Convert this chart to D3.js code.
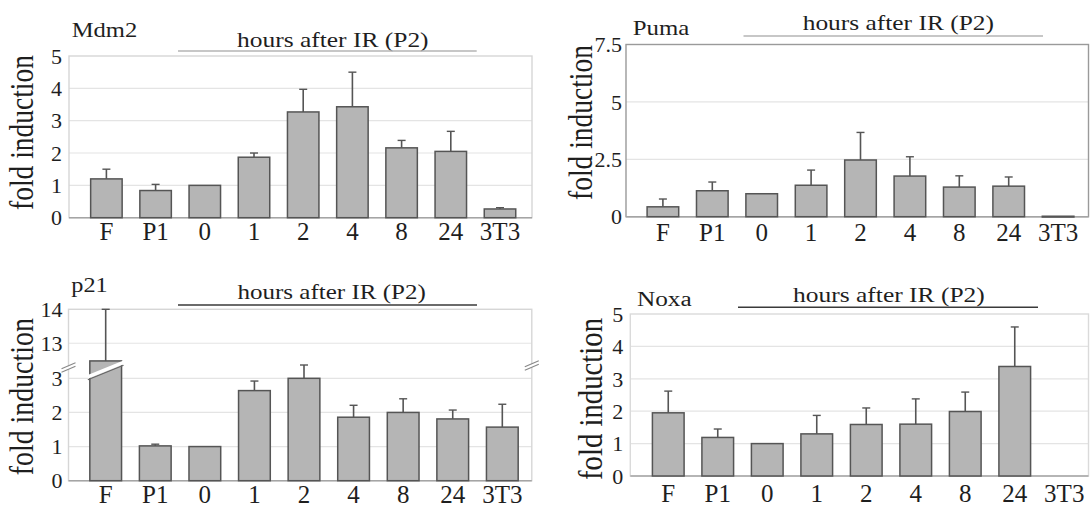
<!DOCTYPE html>
<html><head><meta charset="utf-8">
<script src="https://cdn.jsdelivr.net/npm/d3@7"></script>
</head><body style="margin:0">
<svg id="chart" width="1091" height="506" style="display:block;font-family:'Liberation Serif'"></svg>
<script>
// ---------- data ----------
const categories = ["F","P1","0","1","2","4","8","24","3T3"];
const groupLabel = "hours after IR (P2)";
const yAxisTitle = "fold induction";

const mdm2Values = [1.20, 0.84, 1.00, 1.87, 3.27, 3.43, 2.16, 2.05, 0.27];
const mdm2Errors = [0.30, 0.19, 0.00, 0.13, 0.70, 1.07, 0.23, 0.62, 0.04];
const mdm2Ticks  = [0, 1, 2, 3, 4, 5];

const pumaValues = [0.43, 1.13, 1.00, 1.37, 2.47, 1.77, 1.29, 1.33, 0.02];
const pumaErrors = [0.34, 0.38, 0.00, 0.66, 1.20, 0.84, 0.49, 0.40, 0.00];
const pumaTicks  = [0, 2.5, 5, 7.5];

const p21Values = [12.48, 1.02, 1.00, 2.64, 3.00, 1.86, 2.00, 1.81, 1.57];
const p21Errors = [1.52, 0.05, 0.00, 0.28, 0.39, 0.35, 0.40, 0.26, 0.67];
const p21Ticks  = [0, 1, 2, 3, 13, 14];
const p21Break  = [3.44, 12.41];

const noxaValues = [1.95, 1.19, 1.00, 1.30, 1.59, 1.60, 1.99, 3.38, null];
const noxaErrors = [0.67, 0.26, 0.00, 0.57, 0.51, 0.78, 0.60, 1.22, null];
const noxaTicks  = [0, 1, 2, 3, 4, 5];

// ---------- layout (positions / styles) ----------
const FONT = "Liberation Serif";
const panels = [
  { title:"Mdm2", values:mdm2Values, errors:mdm2Errors, ticks:mdm2Ticks,
    yDomain:[0,5], yRange:[217.7,56],
    frame:{l:69,r:532,t:56,b:217.7}, frameColor:"#d6d6d6",
    band:[81.8,524.6], tickX:62, xLabelBase:240,
    titlePos:{x:71.7,y:36.7,w:65.6,fs:21},
    hours:{x:237,y:46.7,w:191.6}, line:{x0:178,x1:476.7,y:51,c:"#b5b5b5"},
    ylab:{x:33,cy:132.5,len:155} },
  { title:"Puma", values:pumaValues, errors:pumaErrors, ticks:pumaTicks,
    yDomain:[0,7.5], yRange:[216.7,44.5],
    frame:{l:626,r:1088.5,t:44.5,b:216.7}, frameColor:"#9a9a9a",
    band:[638.2,1082.8], tickX:622, xLabelBase:241.5,
    titlePos:{x:632.7,y:35,w:56.6,fs:21},
    hours:{x:802.7,y:30,w:191.3}, line:{x0:743.5,x1:1043,y:36,c:"#b5b5b5"},
    ylab:{x:592,cy:122.5,len:155} },
  { title:"p21", values:p21Values, errors:p21Errors, ticks:p21Ticks,
    yDomain:[0,p21Break[0],p21Break[1],14], yRange:[480.7,363.3,363.3,309.3], broken:true,
    frame:{l:68.5,r:531.8,t:309.3,b:480.7}, frameColor:"#d6d6d6",
    band:[80.9,527.1], tickX:62.6, xLabelBase:502.5,
    titlePos:{x:71.3,y:291.7,w:36.4,fs:22},
    hours:{x:237.4,y:299.3,w:188.4}, line:{x0:178,x1:477,y:305,c:"#3a3a3a"},
    ylab:{x:33,cy:396.7,len:157} },
  { title:"Noxa", values:noxaValues, errors:noxaErrors, ticks:noxaTicks,
    yDomain:[0,5], yRange:[476,314],
    frame:{l:630.3,r:1088.5,t:314,b:476}, frameColor:"#dadada",
    band:[643.5,1089], tickX:623.3, xLabelBase:501.7,
    titlePos:{x:637,y:306,w:54.7,fs:20},
    hours:{x:793,y:301.7,w:191.8}, line:{x0:738,x1:1038,y:307.3,c:"#3a3a3a"},
    ylab:{x:601.7,cy:399,len:162} }
];

const svg = d3.select("#chart");
const barFill = "#b5b5b5", barStroke = "#555", errColor = "#555";

function txt(sel, size) {
  return sel.style("font-family", `"${FONT}"`).attr("font-size", size).attr("fill", "#1e1e1e");
}

panels.forEach(p => {
  const g = svg.append("g");
  const f = p.frame;
  const x = d3.scaleBand().domain(categories).range(p.band).paddingInner(0.36).paddingOuter(0.18);
  const y = d3.scaleLinear().domain(p.yDomain).range(p.yRange);

  g.append("g").selectAll("line")
    .data(p.ticks.filter(t => t > 0 && y(t) > f.t + 1))
    .join("line")
    .attr("x1", f.l).attr("x2", f.r)
    .attr("y1", d => y(d)).attr("y2", d => y(d))
    .attr("stroke", "#e4e4e4").attr("stroke-width", 1.2);

  g.append("rect").attr("x", f.l).attr("y", f.t)
    .attr("width", f.r - f.l).attr("height", f.b - f.t)
    .attr("fill", "none").attr("stroke", p.frameColor).attr("stroke-width", 1.4);
  g.append("line").attr("x1", f.l).attr("x2", f.r).attr("y1", y(0)).attr("y2", y(0))
    .attr("stroke", "#a5a5a5").attr("stroke-width", 1.4);

  const data = categories.map((c, i) => ({c, v:p.values[i], e:p.errors[i]})).filter(d => d.v != null);
  const cx = d => x(d.c) + x.bandwidth()/2;
  g.append("g").selectAll("line")
    .data(data.filter(d => d.e > 0))
    .join("line")
    .attr("x1", cx).attr("x2", cx)
    .attr("y1", d => y(d.v)).attr("y2", d => y(d.v + d.e))
    .attr("stroke", errColor).attr("stroke-width", 1.6);
  g.append("g").selectAll("line")
    .data(data.filter(d => d.e > 0))
    .join("line")
    .attr("x1", d => cx(d) - 4).attr("x2", d => cx(d) + 4)
    .attr("y1", d => y(d.v + d.e)).attr("y2", d => y(d.v + d.e))
    .attr("stroke", errColor).attr("stroke-width", 1.4);
  g.append("g").selectAll("rect")
    .data(data)
    .join("rect")
    .attr("x", d => x(d.c)).attr("width", x.bandwidth())
    .attr("y", d => y(d.v)).attr("height", d => Math.max(0.8, y(0) - y(d.v)))
    .attr("fill", barFill).attr("stroke", barStroke).attr("stroke-width", 1.5);

  if (p.broken) {
    const yb = y(p21Break[0]);
    const bx = x(categories[0]), bw = x.bandwidth();
    g.append("line").attr("x1", bx - 2).attr("y1", yb + 16.5).attr("x2", bx + bw + 2).attr("y2", yb + 2)
      .attr("stroke", "#666").attr("stroke-width", 1.2);
    g.append("line").attr("x1", bx - 2).attr("y1", yb + 13.5).attr("x2", bx + bw + 2).attr("y2", yb - 1)
      .attr("stroke", "#fff").attr("stroke-width", 3.5);
    [[f.l, yb + 2], [f.r, yb]].forEach(([mx, my]) => {
      g.append("polygon")
        .attr("points", `${mx-7},${my+4} ${mx+7},${my-2} ${mx+7},${my+1} ${mx-7},${my+7}`)
        .attr("fill", "#fff");
      g.append("line").attr("x1", mx-7).attr("y1", my+3.5).attr("x2", mx+7).attr("y2", my-2.5)
        .attr("stroke", "#888").attr("stroke-width", 1.1);
      g.append("line").attr("x1", mx-7).attr("y1", my+7).attr("x2", mx+7).attr("y2", my+1)
        .attr("stroke", "#888").attr("stroke-width", 1.1);
    });
  }

  // y axis tick labels
  const yAxis = d3.axisLeft(y).tickValues(p.ticks).tickSize(0).tickPadding(0)
    .tickFormat(d3.format("~g"));
  const ya = g.append("g").attr("transform", `translate(${p.tickX},0)`).call(yAxis)
    .attr("font-family", null).attr("font-size", null);
  ya.select(".domain").remove();
  txt(ya.selectAll("text"), 22).attr("x", 0).attr("dy", "0.33em");

  // x axis tick labels
  const xAxis = d3.axisBottom(x).tickSize(0).tickPadding(0);
  const xa = g.append("g").attr("transform", `translate(0,${y(0)})`).call(xAxis)
    .attr("font-family", null).attr("font-size", null);
  xa.select(".domain").remove();
  txt(xa.selectAll("text"), 25).attr("y", p.xLabelBase - y(0)).attr("dy", 0);

  // title
  txt(g.append("text"), p.titlePos.fs).attr("x", p.titlePos.x).attr("y", p.titlePos.y)
    .attr("textLength", p.titlePos.w).attr("lengthAdjust", "spacingAndGlyphs").text(p.title);
  // group label and line
  txt(g.append("text"), 22).attr("x", p.hours.x).attr("y", p.hours.y)
    .attr("textLength", p.hours.w).attr("lengthAdjust", "spacingAndGlyphs").text(groupLabel);
  g.append("line").attr("x1", p.line.x0).attr("x2", p.line.x1)
    .attr("y1", p.line.y).attr("y2", p.line.y)
    .attr("stroke", p.line.c).attr("stroke-width", 1.5);
  // y title
  txt(g.append("text"), 33)
    .attr("transform", `translate(${p.ylab.x},${p.ylab.cy}) rotate(-90)`)
    .attr("text-anchor", "middle")
    .attr("textLength", p.ylab.len).attr("lengthAdjust", "spacingAndGlyphs")
    .text(yAxisTitle);
});
</script>
</body></html>
